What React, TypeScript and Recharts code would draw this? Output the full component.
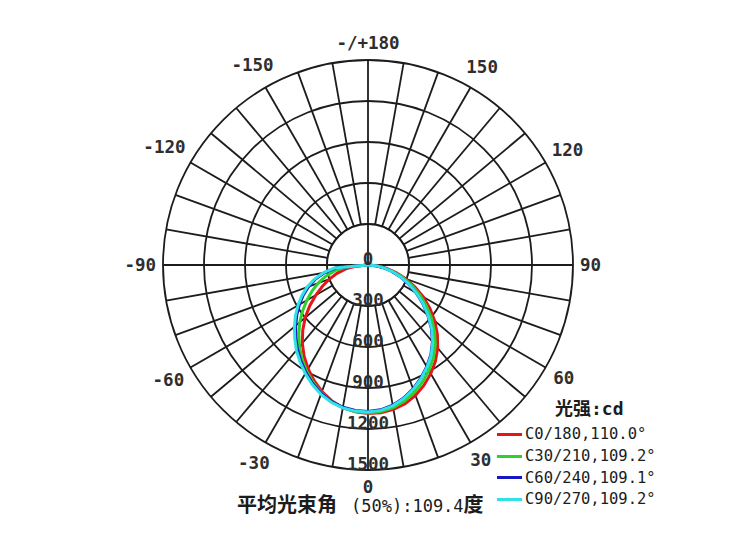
import React from "react";
import {
  RadarChart,
  Radar,
  PolarGrid,
  PolarAngleAxis,
  PolarRadiusAxis,
  Legend,
  Customized,
} from "recharts";

// gamma angle (deg from nadir), -90 .. 90 step 5
const ANGLES = [
  -90, -85, -80, -75, -70, -65, -60, -55, -50, -45, -40, -35, -30, -25, -20, -15, -10, -5, 0,
  5, 10, 15, 20, 25, 30, 35, 40, 45, 50, 55, 60, 65, 70, 75, 80, 85, 90,
];

// luminous intensity, cd
const C0 = [
  0, 85, 165, 235, 300, 368, 440, 520, 600, 675, 748, 815, 877, 933, 985, 1028, 1060, 1079, 1087,
  1085, 1073, 1050, 1015, 970, 918, 860, 793, 718, 637, 553, 467, 380, 293, 210, 133, 62, 0,
];
const C30 = [
  0, 165, 250, 322, 388, 452, 516, 584, 652, 716, 781, 841, 898, 949, 996, 1034, 1061, 1076, 1082,
  1077, 1060, 1031, 992, 944, 891, 833, 766, 689, 606, 522, 438, 355, 274, 198, 126, 58, 0,
];
const C60 = [
  0, 235, 322, 398, 463, 523, 580, 636, 691, 747, 804, 857, 909, 957, 1000, 1034, 1057, 1068, 1072,
  1064, 1042, 1008, 964, 914, 860, 802, 734, 656, 571, 488, 406, 326, 251, 181, 115, 53, 0,
];
const C90 = [
  0, 245, 335, 410, 475, 535, 592, 648, 703, 758, 815, 867, 918, 965, 1007, 1040, 1062, 1073, 1076,
  1068, 1046, 1012, 968, 918, 864, 806, 738, 660, 575, 492, 410, 330, 255, 185, 118, 55, 0,
];

const SERIES_KEYS = ["c0", "c30", "c60", "c90"];
const SERIES_NAMES = ["C0/180,110.0°", "C30/210,109.2°", "C60/240,109.1°", "C90/270,109.2°"];
const SERIES_COLORS = ["#e4161c", "#2bd22e", "#1616c4", "#30e2e8"];

const RADIUS_TICKS = [0, 300, 600, 900, 1200, 1500];
const ANGLE_TICKS = [-150, -120, -90, -60, -30, 0, 30, 60, 90, 120, 150, 180];

const W = 733;
const H = 539;
const CX = 368;
const CY = 265;
const R = 205;
const R_MAX = 1500;
const R_IN = (RADIUS_TICKS[1] / R_MAX) * R;

const MONO = '"DejaVu Sans Mono", monospace';
const CJK = '"Noto Sans CJK SC", sans-serif';
const INK = "#1c1c1c";
const LABEL = "#2e2e2e";
const GRID_W = 1.8;

const GRID_ANGLES = Array.from({ length: 36 }, (_, i) => i * 10);
const GRID_RADII = RADIUS_TICKS.slice(1).map((v) => (v / R_MAX) * R);

const data = ANGLES.map((angle, i) => ({
  angle,
  c0: C0[i],
  c30: C30[i],
  c60: C60[i],
  c90: C90[i],
}));

function AngleTick(props: any) {
  const { payload } = props;
  const v = payload?.value;
  if (v === -180) return null;
  const label = v === 180 ? "-/+180" : String(v);
  const fs = 17.5;
  const cx = props.cx ?? CX;
  const cy = props.cy ?? CY;
  const radius = props.radius ?? R;
  const coord = payload.coordinate ?? v - 90;
  const a = (coord * Math.PI) / 180;
  const w = label.length * 0.602 * fs;
  const r = radius + 7 + (Math.abs(Math.cos(a)) * w) / 2 + Math.abs(Math.sin(a)) * fs * 0.55;
  return (
    <text
      x={cx + r * Math.cos(a)}
      y={cy - r * Math.sin(a)}
      textAnchor="middle"
      dominantBaseline="central"
      fontFamily={MONO}
      fontWeight={700}
      fontSize={fs}
      fill={LABEL}
    >
      {label}
    </text>
  );
}

function RadiusTick(props: any) {
  const { x, y, payload } = props;
  return (
    <text
      x={x}
      y={y}
      textAnchor="middle"
      fontFamily={MONO}
      fontWeight={700}
      fontSize={17.5}
      fill={LABEL}
    >
      {payload.value}
    </text>
  );
}

function InnerDisk() {
  return (
    <g>
      <circle cx={CX} cy={CY} r={R_IN} fill="#fff" stroke={INK} strokeWidth={GRID_W} />
      <line x1={CX - R_IN} x2={CX + R_IN} y1={CY} y2={CY} stroke={INK} strokeWidth={GRID_W} />
      <line x1={CX} x2={CX} y1={CY - R_IN} y2={CY + R_IN} stroke={INK} strokeWidth={GRID_W} />
    </g>
  );
}

function LegendBox({ payload }: any) {
  const items = payload ?? [];
  return (
    <div style={{ fontFamily: MONO, color: INK }}>
      <div style={{ marginLeft: 58, fontWeight: 700, fontSize: 18, lineHeight: "22px" }}>
        <span style={{ fontFamily: CJK }}>光强</span>:cd
      </div>
      <div style={{ marginTop: 3.5 }}>
        {items.map((e: any) => (
          <div
            key={e.value}
            style={{ display: "flex", alignItems: "center", height: 21.7, whiteSpace: "nowrap" }}
          >
            <span
              style={{
                display: "inline-block",
                width: 25,
                height: 3,
                background: SERIES_COLORS[SERIES_NAMES.indexOf(e.value)] ?? e.color,
                marginRight: 3,
              }}
            />
            <span style={{ fontSize: 15.5 }}>{e.value}</span>
          </div>
        ))}
      </div>
    </div>
  );
}

export default function App() {
  return (
    <div style={{ position: "absolute", left: 0, top: 0, width: W, height: H, background: "#fff" }}>
      <RadarChart
        width={W}
        height={H}
        data={data}
        cx={CX}
        cy={CY}
        innerRadius={0}
        outerRadius={R}
        startAngle={-270}
        endAngle={90}
        margin={{ top: 0, right: 0, bottom: 0, left: 0 }}
      >
        <PolarGrid
          gridType="circle"
          polarAngles={GRID_ANGLES}
          polarRadius={GRID_RADII}
          stroke={INK}
          strokeWidth={GRID_W}
        />
        <Customized component={InnerDisk} />
        <PolarAngleAxis
          dataKey="angle"
          type="number"
          domain={[-180, 180]}
          ticks={ANGLE_TICKS}
          tick={AngleTick}
          tickLine={false}
          axisLine={false}
        />
        <PolarRadiusAxis
          angle={-90}
          type="number"
          domain={[0, R_MAX]}
          ticks={RADIUS_TICKS}
          tick={RadiusTick}
          axisLine={false}
          tickLine={false}
        />
        {SERIES_KEYS.map((k, i) => (
          <Radar
            key={k}
            dataKey={k}
            name={SERIES_NAMES[i]}
            stroke={SERIES_COLORS[i]}
            strokeWidth={3}
            fill="none"
            fillOpacity={0}
            dot={false}
            isAnimationActive={false}
          />
        ))}
        <Legend
          verticalAlign="bottom"
          align="left"
          layout="vertical"
          wrapperStyle={{ left: 497, top: 396, bottom: "auto", width: 200 }}
          content={(p: any) => <LegendBox payload={p.payload} />}
        />
      </RadarChart>
      <div
        style={{
          position: "absolute",
          left: 237,
          top: 489,
          display: "flex",
          alignItems: "baseline",
          color: INK,
          whiteSpace: "nowrap",
        }}
      >
        <span style={{ fontFamily: CJK, fontSize: 20, fontWeight: 700 }}>平均光束角</span>
        <span style={{ fontFamily: MONO, fontSize: 17, marginLeft: 14 }}>(50%):109.4</span>
        <span style={{ fontFamily: CJK, fontSize: 20, fontWeight: 700 }}>度</span>
      </div>
    </div>
  );
}
